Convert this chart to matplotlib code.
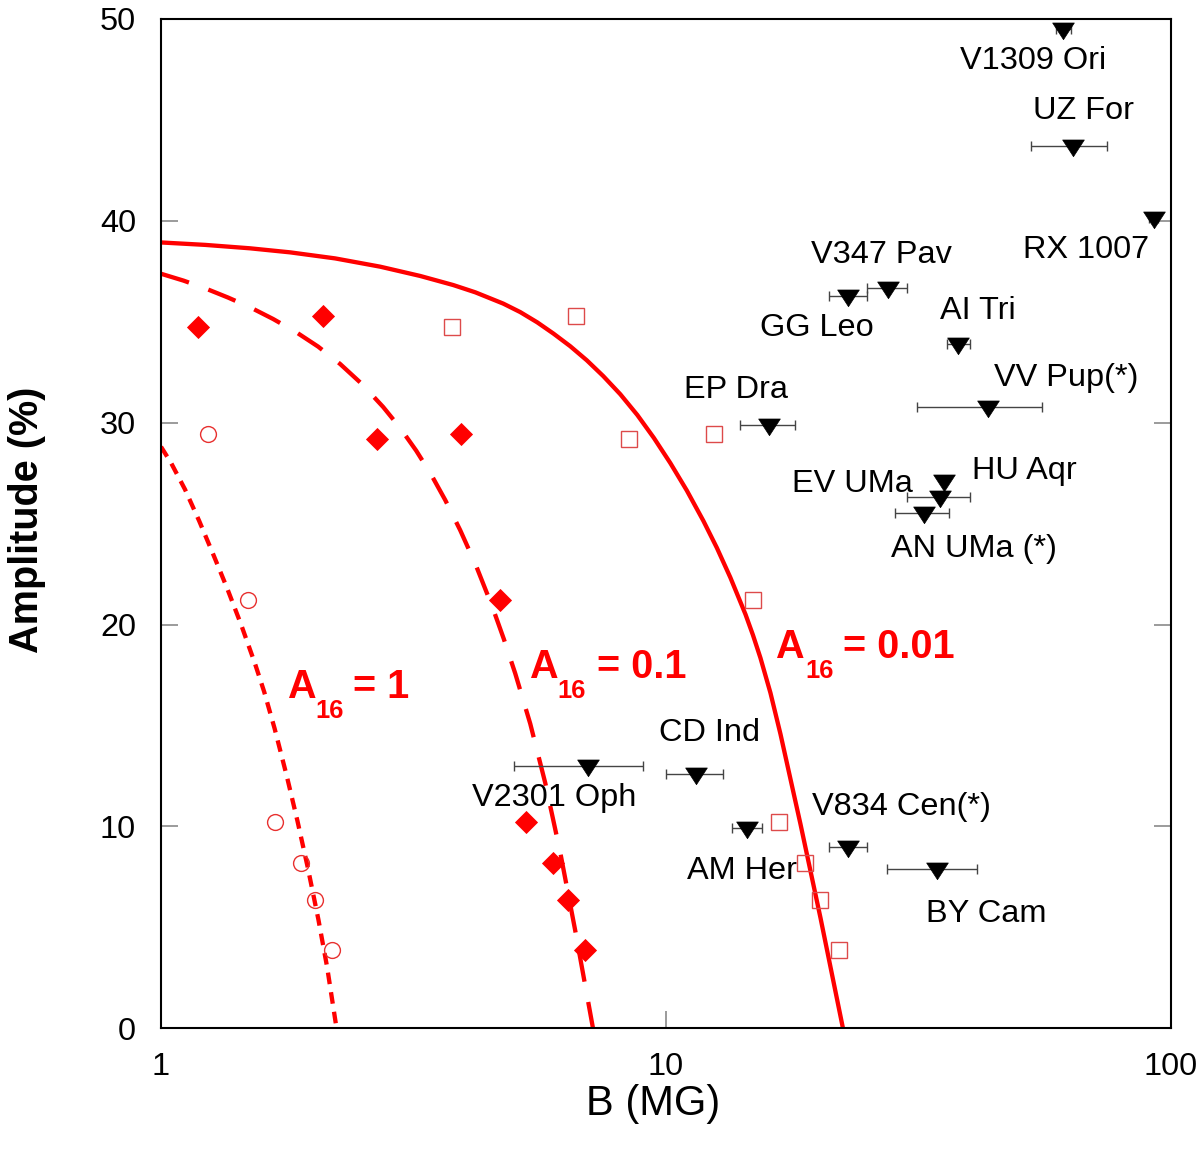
import numpy as np
import matplotlib
matplotlib.use("Agg")
import matplotlib.pyplot as plt
from matplotlib.path import Path
from matplotlib.ticker import FixedLocator, FixedFormatter, NullLocator

plt.rcParams['font.family'] = ['Liberation Sans', 'DejaVu Sans']

# ---- model curves ----
curve_001_B = [1.000, 1.2225, 1.5011, 1.8017, 2.2130, 2.7176, 3.2618, 3.7922, 4.1935,
               4.7644, 5.1475, 5.5644, 5.9935, 6.4656, 6.9743, 7.5162, 8.1245, 8.7820,
               9.4665, 10.207, 11.005, 11.866, 12.621, 13.421, 14.378, 14.878, 15.394,
               16.112, 16.866, 18.477, 20.245, 22.43]
curve_001_A = [38.93, 38.81, 38.64, 38.44, 38.14, 37.73, 37.27, 36.82, 36.46,
               35.90, 35.48, 34.97, 34.41, 33.79, 33.09, 32.31, 31.41, 30.38,
               29.25, 28.00, 26.64, 25.14, 23.80, 22.33, 20.51, 19.48, 18.35,
               16.62, 14.58, 10.12, 5.47, 0.0]

curve_01_B = [1.0, 1.1080, 1.2281, 1.3580, 1.5011, 1.6672, 1.8515, 2.0477, 2.2637,
              2.4972, 2.7544, 2.9703, 3.2018, 3.4217, 3.6560, 3.9137, 4.1935, 4.5307,
              4.7753, 5.0310, 5.3875, 5.7700, 6.1800, 6.6160, 7.1730]
curve_01_A = [37.38, 37.04, 36.64, 36.20, 35.72, 35.14, 34.49, 33.77, 32.91,
              31.93, 30.78, 29.77, 28.62, 27.47, 26.17, 24.68, 23.01, 20.89,
              19.29, 17.58, 15.09, 12.15, 8.69, 4.83, 0.0]

curve_1_B = [1.0, 1.047, 1.116, 1.190, 1.268, 1.352, 1.441, 1.536, 1.601, 1.679,
             1.775, 1.863, 1.954, 2.05, 2.133, 2.227]
curve_1_A = [28.81, 28.01, 26.69, 25.14, 23.50, 21.80, 20.00, 18.05, 16.67, 14.85,
             12.49, 10.28, 7.94, 5.39, 3.04, 0.0]

# ---- model points ----
circ_B = [1.239, 1.484, 1.679, 1.893, 2.018, 2.185]
circ_A = [29.45, 21.22, 10.24, 8.21, 6.36, 3.88]

diam_B = [1.186, 2.094, 2.674, 3.932, 4.70, 5.289, 5.99, 6.387, 6.92]
diam_A = [34.72, 35.31, 29.20, 29.45, 21.22, 10.24, 8.21, 6.36, 3.88]

sq_B = [3.77, 6.63, 8.44, 12.44, 14.86, 16.77, 18.84, 20.21, 22.0]
sq_A = [34.74, 35.3, 29.2, 29.45, 21.22, 10.24, 8.21, 6.36, 3.88]

# ---- observed stars ----
star_names = ["V1309 Ori", "UZ For", "RX 1007", "V347 Pav", "GG Leo", "AI Tri",
              "VV Pup(*)", "EP Dra", "HU Aqr", "EV UMa", "AN UMa (*)", "V2301 Oph",
              "CD Ind", "AM Her", "V834 Cen(*)", "BY Cam"]
star_B = [61.2, 64.1, 92.5, 27.5, 23.0, 37.9, 43.4, 16.0, 35.5, 34.9, 32.4, 7.0,
          11.47, 14.47, 22.94, 34.5]
star_A = [49.5, 43.69, 40.15, 36.67, 36.3, 33.9, 30.8, 29.9, 27.1, 26.34, 25.55, 13.01,
          12.59, 9.91, 8.97, 7.91]
star_Blo = [59.2, 52.8, 90.5, 25.0, 21.0, 36.0, 31.4, 14.0, None, 30.0, 28.5, 5.0,
            10.0, 13.5, 21.0, 27.4]
star_Bhi = [63.4, 74.9, 94.5, 30.0, 25.0, 40.0, 55.5, 18.0, None, 40.0, 36.4, 9.0,
            13.0, 15.5, 25.0, 41.4]
label_B = [53.5, 67.2, 67.85, 26.74, 19.93, 41.44, 62.08, 13.79, 51.24, 23.38, 40.69,
           6.01, 12.2, 14.18, 29.26, 43.19]
label_A = [48.08, 45.60, 38.72, 38.47, 34.85, 35.69, 32.37, 31.78, 27.77, 27.12, 23.90,
           11.56, 14.78, 7.95, 11.16, 5.86]

# ---- curve annotations ----
ann_value = ["= 1", "= 0.1", "= 0.01"]
ann_A_pos = [(1.778, 16.37), (5.355, 17.36), (16.48, 18.33)]
ann_sub_pos = [(2.02, 15.36), (6.095, 16.37), (18.9, 17.34)]
ann_val_pos = [(2.406, 16.37), (7.315, 17.36), (22.45, 18.33)]

x_ticks = [1, 10, 100]
x_ticklabels = ["1", "10", "100"]
y_ticks = [0, 10, 20, 30, 40, 50]

RED = '#ff0000'

fig = plt.figure(figsize=(12, 11.57), dpi=100)
ax = fig.add_axes([161 / 1200, (1157 - 1028.3) / 1157, (1170.7 - 161) / 1200,
                   (1028.3 - 19) / 1157])
ax.set_xscale('log')
ax.set_xlim(1, 100)
ax.set_ylim(0, 50)

ax.plot(curve_001_B, curve_001_A, color=RED, lw=3.1, solid_capstyle='butt',
        solid_joinstyle='round', zorder=2)
ax.plot(curve_01_B, curve_01_A, color=RED, lw=3.1, dashes=(6.8, 4.8),
        dash_joinstyle='round', zorder=2)
ax.plot(curve_1_B, curve_1_A, color=RED, lw=3.1, dashes=(2.7, 1.9),
        dash_joinstyle='round', zorder=2)

ax.plot(circ_B, circ_A, ls='none', marker='o', ms=11.4, mfc='none', mec='#e8302f',
        mew=1.0, zorder=3)
ax.plot(sq_B, sq_A, ls='none', marker='s', ms=11.5, mfc='none', mec='#dd4a4a',
        mew=1.0, zorder=3)
ax.plot(diam_B, diam_A, ls='none', marker='D', ms=11.6, mfc=RED, mec=RED,
        mew=0.6, zorder=3)

# error bars
eb_B, eb_A, eb_lo, eb_hi = [], [], [], []
for b, a, lo, hi in zip(star_B, star_A, star_Blo, star_Bhi):
    if lo is not None:
        eb_B.append(b)
        eb_A.append(a)
        eb_lo.append(b - lo)
        eb_hi.append(hi - b)
ax.errorbar(eb_B, eb_A, xerr=[eb_lo, eb_hi], fmt='none', ecolor='#444444',
            elinewidth=1.0, capsize=3.85, capthick=1.0, zorder=4)

tri = Path([(-1, 0.6), (1, 0.6), (0, -0.94), (0, 0)],
           [Path.MOVETO, Path.LINETO, Path.LINETO, Path.CLOSEPOLY])
ax.plot(star_B, star_A, ls='none', marker=tri, ms=15.6, mfc='black', mec='black',
        mew=0.5, zorder=5, clip_on=False)

for name, lb, la in zip(star_names, label_B, label_A):
    ax.text(lb, la, name, fontsize=23.4, ha='center', va='center_baseline',
            color='black', zorder=6)

for val, pa, ps, pv in zip(ann_value, ann_A_pos, ann_sub_pos, ann_val_pos):
    ax.text(pa[0], pa[1], "A", fontsize=28.5, fontweight='bold', color=RED,
            ha='left', va='baseline', zorder=6)
    ax.text(ps[0], ps[1], "16", fontsize=18.4, fontweight='bold', color=RED,
            ha='left', va='baseline', zorder=6)
    ax.text(pv[0], pv[1], val, fontsize=28.5, fontweight='bold', color=RED,
            ha='left', va='baseline', zorder=6)

ax.xaxis.set_major_locator(FixedLocator(x_ticks))
ax.xaxis.set_major_formatter(FixedFormatter(x_ticklabels))
ax.xaxis.set_minor_locator(NullLocator())
ax.yaxis.set_major_locator(FixedLocator(y_ticks))
ax.yaxis.set_minor_locator(NullLocator())

ax.tick_params(axis='both', which='major', direction='in', length=12.2, width=1.1,
               color='#808080', labelsize=23.4, labelcolor='black')
ax.tick_params(axis='y', pad=18, right=True, left=True)
ax.tick_params(axis='x', pad=17, top=False, bottom=True)

for s in ax.spines.values():
    s.set_linewidth(1.5)
    s.set_color('black')

ax.text((27.5 - 161) / 1009.7, (1028.3 - 520) / 1009.3, "Amplitude (%)",
        transform=ax.transAxes, rotation=90, fontsize=28.5, fontweight='bold',
        ha='center', va='center')
ax.text((653 - 161) / 1009.7, (1028.3 - 1104) / 1009.3, "B (MG)",
        transform=ax.transAxes, fontsize=30, ha='center', va='center')

fig.savefig("out.png", dpi=100)
